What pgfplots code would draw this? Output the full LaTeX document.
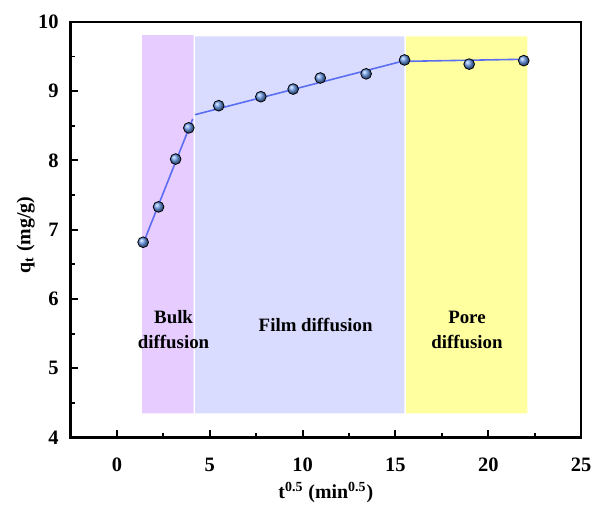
\documentclass[border=0pt]{standalone}
\usepackage{fontspec}
\setmainfont{Liberation Serif}
\usepackage{pgfplots}
\pgfplotsset{compat=1.18}

\definecolor{bulk}{HTML}{E6CCFF}
\definecolor{film}{HTML}{D9DBFF}
\definecolor{pore}{HTML}{FFFF9F}
\definecolor{fitline}{HTML}{5B6EF2}
\definecolor{ballc}{HTML}{6A9AE8}

\begin{document}
\begin{tikzpicture}
\begin{axis}[
  scale only axis, width=257pt, height=209.3pt,
  xmin=-2.5, xmax=25, ymin=4, ymax=10,
  xtick={0,5,...,25}, ytick={4,5,...,10},
  minor x tick num=1, minor y tick num=1,
  tick align=inside, xtick pos=bottom, ytick pos=left,
  major tick length=4pt, minor tick length=2.5pt,
  axis line style={line width=1.2pt},
  every tick/.style={black, line width=1pt},
  /pgf/number format/assume math mode=true,
  tick label style={font=\bfseries\fontsize{10.3}{12}\selectfont},
  xticklabel style={yshift=-6.5pt},
  yticklabel style={xshift=-2.5pt},
  xlabel={t\textsuperscript{0.5} (min\textsuperscript{0.5})},
  ylabel={q\textsubscript{t} (mg/g)},
  label style={font=\bfseries\fontsize{10}{12}\selectfont},
  xlabel style={at={(axis description cs:0.5,0)}, anchor=center, yshift=-27.5pt},
  ylabel style={at={(axis description cs:-0.088,0.487)}, anchor=center},
  clip=false,
]
% diffusion stages
\addplot[draw=none, fill=bulk] coordinates {(1.35,4.35) (4.13,4.35) (4.13,9.81) (1.35,9.81) (1.35,4.35)};
\addplot[draw=none, fill=film] coordinates {(4.21,4.35) (15.48,4.35) (15.48,9.79) (4.21,9.79) (4.21,4.35)};
\addplot[draw=none, fill=pore] coordinates {(15.57,4.35) (22.1,4.35) (22.1,9.79) (15.57,9.79) (15.57,4.35)};

% linear segments
\addplot[fitline, line width=0.8pt] coordinates {(1.41,6.80) (4.08,8.60)};
\addplot[fitline, line width=0.8pt] coordinates {(4.20,8.66) (15.49,9.44)};
\addplot[fitline, line width=0.8pt] coordinates {(15.49,9.43) (21.91,9.46)};

% measured uptake
\addplot[only marks, mark=ball, mark size=2.7pt, mark options={ball color=ballc}] coordinates {
  (1.41,6.82) (2.24,7.33) (3.16,8.02) (3.87,8.47) (5.48,8.79) (7.75,8.92)
  (9.49,9.03) (10.95,9.19) (13.42,9.25) (15.49,9.45) (18.97,9.39) (21.91,9.44)
};

\node[font=\bfseries\fontsize{9.5}{12.5}\selectfont, align=center] at (axis cs:3.05,5.56) {Bulk\\diffusion};
\node[font=\bfseries\fontsize{9.5}{12.5}\selectfont, align=center] at (axis cs:10.7,5.62) {Film diffusion};
\node[font=\bfseries\fontsize{9.5}{12.5}\selectfont, align=center] at (axis cs:18.85,5.56) {Pore\\diffusion};
\end{axis}
\path ([shift={(-35.5pt,-32.5pt)}]current axis.south west) rectangle ([shift={(6.5pt,11pt)}]current axis.north east);
\end{tikzpicture}
\end{document}
